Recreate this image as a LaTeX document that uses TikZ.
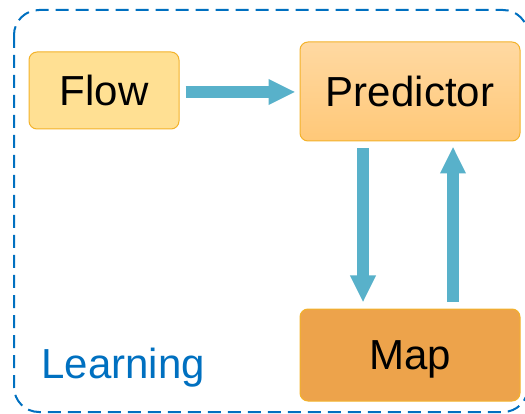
\documentclass[tikz,border=0pt]{standalone}
\usepackage{fontspec}
\setmainfont{Liberation Sans}
\usetikzlibrary{arrows.meta, positioning, calc}
\definecolor{cblue}{HTML}{0070C0}
\definecolor{cflow}{HTML}{FFE093}
\definecolor{cedge}{HTML}{F3B22A}
\definecolor{cpredtop}{HTML}{FFD9A2}
\definecolor{cpredbot}{HTML}{FFC878}
\definecolor{cmap}{HTML}{EDA34B}
\definecolor{carrow}{HTML}{58B1CA}
\tikzset{
  every picture/.style={font=\fontsize{42}{50}\selectfont, line width=1pt},
  box/.style={draw=cedge, rounded corners=8pt, align=center, inner sep=0pt, text depth=0pt},
  arrow/.style={-{Triangle[length=27pt, width=24pt]}, draw=carrow, line width=12pt},
}

\begin{document}
\begin{tikzpicture}[x=1pt, y=-1pt,
    frame/.style={draw=cblue, line width=2pt, dash pattern=on 13pt off 7pt, rounded corners=25pt},
  ]
  \useasboundingbox (0,0) rectangle (525,414);

  % group frame
  \draw[frame] (14,10) rectangle (528,412);
  \node[text=cblue, anchor=base west, inner sep=0pt] (learn) at (41,378) {Learning};

  % boxes
  \node[box, fill=cflow, minimum width=150pt, minimum height=77pt] (flow) at (104,90.5) {Flow};
  \node[box, top color=cpredtop, bottom color=cpredbot, minimum width=220pt, minimum height=99pt] (pred) at (410,91.5) {Predictor};
  \node[box, fill=cmap, minimum width=220pt, minimum height=92pt] (map) at (410,355) {Map};

  % arrows
  \draw[arrow, shorten <=6pt, shorten >=4pt] ([yshift=-1.5pt]flow.east) -- ([yshift=-1.5pt]flow.east -| pred.west);
  \draw[arrow, shorten <=7pt, shorten >=6pt] ([xshift=-47pt]pred.south) -- ([xshift=-47pt]map.north);
  \draw[arrow, shorten <=7pt, shorten >=5pt] ([xshift=43pt]map.north) -- ([xshift=43pt]pred.south);
\end{tikzpicture}
\end{document}
